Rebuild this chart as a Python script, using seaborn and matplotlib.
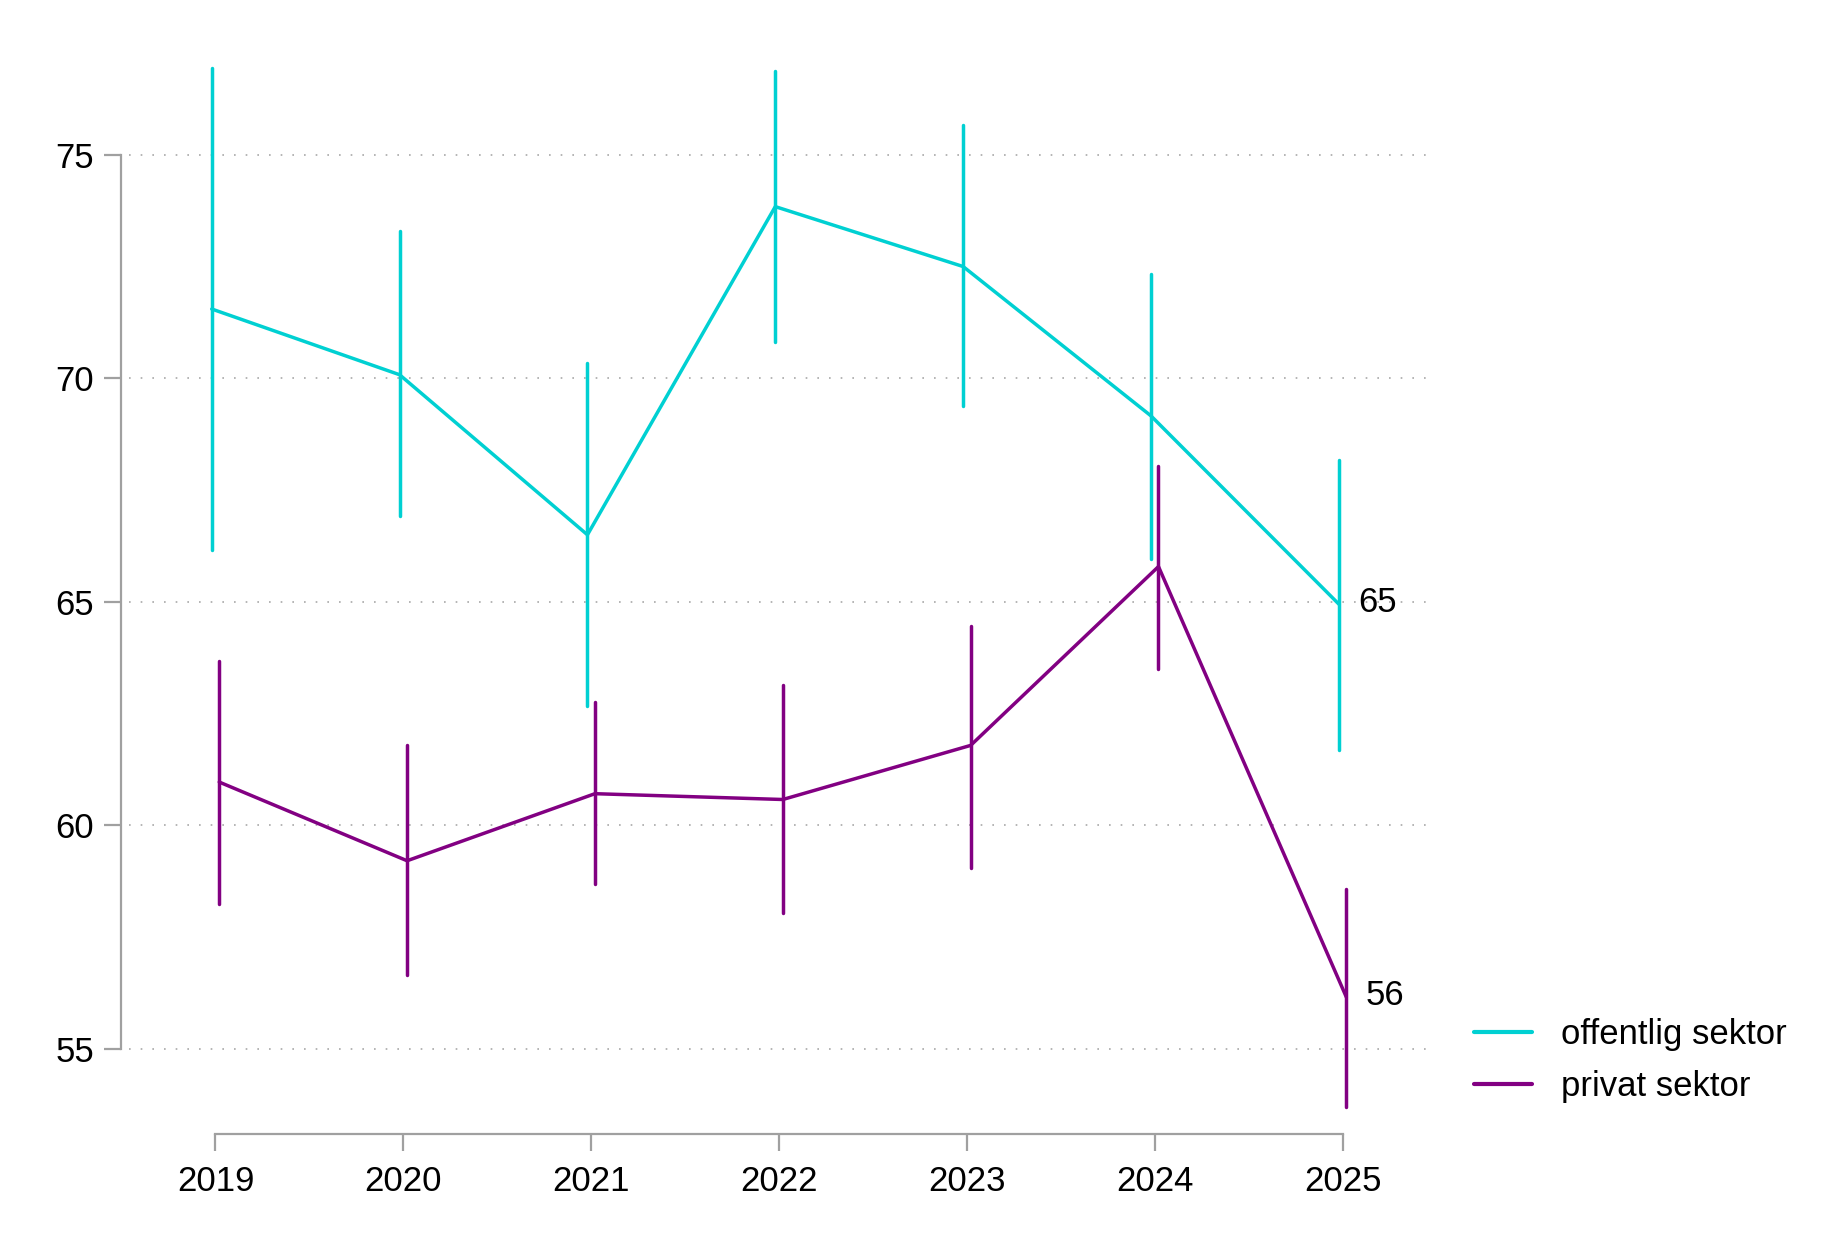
import pandas as pd
import matplotlib
matplotlib.use("Agg")
import matplotlib.pyplot as plt
import seaborn as sns

# --- data ---
years = [2019, 2020, 2021, 2022, 2023, 2024, 2025]
series_names = ["offentlig sektor", "privat sektor"]

off_mid = [71.55, 70.08, 66.50, 73.84, 72.50, 69.16, 64.95]
off_lo = [66.16, 66.92, 62.66, 70.82, 69.37, 65.97, 61.68]
off_hi = [76.95, 73.29, 70.34, 76.87, 75.66, 72.34, 68.18]

priv_mid = [60.97, 59.21, 60.71, 60.58, 61.79, 65.79, 56.16]
priv_lo = [58.24, 56.66, 58.68, 58.05, 59.05, 63.50, 53.71]
priv_hi = [63.68, 61.79, 62.76, 63.13, 64.47, 68.05, 58.58]

y_ticks = [55, 60, 65, 70, 75]

colors = {"offentlig sektor": "#00D0D2", "privat sektor": "#820082"}
dodge = {"offentlig sektor": -0.02, "privat sektor": 0.02}

# long table: lower, middle and upper value per year, so that the
# median is the point and the full range (pi 100) is the error bar
rows = []
for name, mid, lo, hi in [(series_names[0], off_mid, off_lo, off_hi),
                          (series_names[1], priv_mid, priv_lo, priv_hi)]:
    for yr, m, l, h in zip(years, mid, lo, hi):
        for v in (l, m, h):
            rows.append({"year": yr + dodge[name], "value": v, "sektor": name})
df = pd.DataFrame(rows)

sns.set_theme(style="white")
plt.rcParams["font.family"] = ["Liberation Sans", "DejaVu Sans"]

fig = plt.figure(figsize=(18.44, 12.42), dpi=100)
ax = fig.add_axes([0.0700, 0.1014, 0.7080, 0.8496])

sns.lineplot(data=df, x="year", y="value", hue="sektor", hue_order=series_names,
             palette=colors, estimator="median", errorbar=("pi", 100),
             err_style="bars", err_kws={"linewidth": 2.5, "capsize": 0},
             linewidth=2.5, ax=ax)

# end labels
for name, mid in [(series_names[0], off_mid), (series_names[1], priv_mid)]:
    ax.annotate(f"{round(mid[-1])}", xy=(years[-1] + dodge[name], mid[-1]),
                xytext=(14, 1), textcoords="offset points",
                ha="left", va="center", fontsize=25, color="black")

ax.set_xlim(2018.54, 2025.49)
ax.set_ylim(53.5, 77.1)
ax.set_xticks(years)
ax.set_xticklabels([str(y) for y in years])
ax.set_yticks(y_ticks)
ax.set_xlabel("")
ax.set_ylabel("")

ax.yaxis.grid(True, linestyle=(0, (1, 6)), color="#a8a8a8", linewidth=1.2)
ax.xaxis.grid(False)

for side in ["top", "right"]:
    ax.spines[side].set_visible(False)
ax.spines["left"].set_position(("outward", 6))
ax.spines["bottom"].set_position(("outward", 13))
ax.spines["left"].set_bounds(55, 75)
ax.spines["bottom"].set_bounds(2019, 2025)
for side in ["left", "bottom"]:
    ax.spines[side].set_color("#a0a0a0")
    ax.spines[side].set_linewidth(1.6)

ax.tick_params(axis="both", which="major", direction="out", color="#a0a0a0",
               length=12, width=1.6, labelsize=25, labelcolor="black")
ax.tick_params(axis="x", pad=10, bottom=True)
ax.tick_params(axis="y", pad=7, left=True)

handles, labels = ax.get_legend_handles_labels()
for h in handles:
    h.set_linewidth(3)
leg = ax.legend(handles, labels, loc="center left", bbox_to_anchor=(0.792, 0.146),
                bbox_transform=fig.transFigure, frameon=False, fontsize=25,
                handlelength=1.65, handletextpad=0.85, labelspacing=0.55,
                borderaxespad=0)
for t in leg.get_texts():
    t.set_color("black")

plt.savefig("out.png", dpi=100)
plt.close()
